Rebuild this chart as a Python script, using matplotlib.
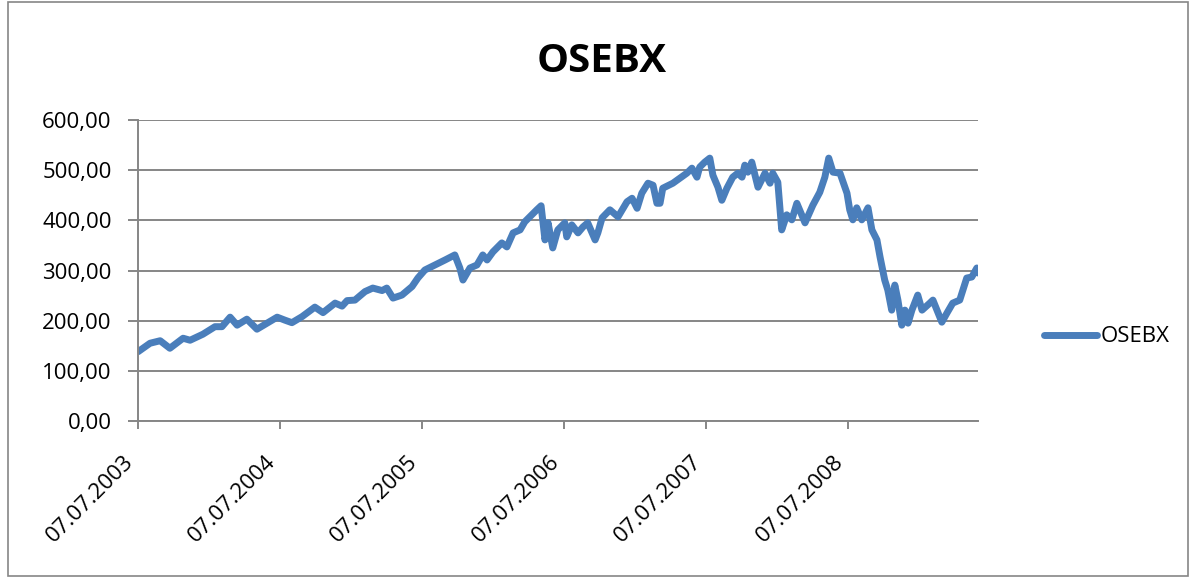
import pandas as pd
import matplotlib
matplotlib.use("Agg")
import matplotlib.pyplot as plt
import matplotlib.ticker as mticker
import matplotlib.dates as mdates
from matplotlib.patches import Rectangle

# ── Data ─────────────────────────────────────────────────
DATES = [
    "2003-07-07", "2003-08-07", "2003-09-02", "2003-09-27", "2003-10-31",
    "2003-11-18", "2003-12-21", "2004-01-21", "2004-02-08", "2004-02-29",
    "2004-03-18", "2004-04-12", "2004-05-08", "2004-06-03", "2004-06-29",
    "2004-07-19", "2004-08-06", "2004-09-01", "2004-10-04", "2004-10-25",
    "2004-11-25", "2004-12-13", "2004-12-26", "2005-01-15", "2005-02-10",
    "2005-03-02", "2005-03-26", "2005-04-07", "2005-04-23", "2005-05-16",
    "2005-06-11", "2005-06-26", "2005-07-14", "2005-08-09", "2005-09-04",
    "2005-09-29", "2005-10-12", "2005-10-20", "2005-11-07", "2005-11-25",
    "2005-12-10", "2005-12-21", "2006-01-05", "2006-01-28", "2006-02-10",
    "2006-02-26", "2006-03-16", "2006-03-28", "2006-04-15", "2006-04-28",
    "2006-05-09", "2006-05-19", "2006-05-27", "2006-06-08", "2006-06-21",
    "2006-07-09", "2006-07-14", "2006-07-27", "2006-08-12", "2006-08-25",
    "2006-09-06", "2006-09-25", "2006-10-02", "2006-10-13", "2006-11-02",
    "2006-11-23", "2006-12-16", "2006-12-29", "2007-01-11", "2007-01-23",
    "2007-02-08", "2007-02-21", "2007-03-03", "2007-03-11", "2007-03-18",
    "2007-04-13", "2007-05-01", "2007-05-19", "2007-06-01", "2007-06-14",
    "2007-06-21", "2007-07-04", "2007-07-17", "2007-07-25", "2007-08-07",
    "2007-08-17", "2007-08-30", "2007-09-14", "2007-09-27", "2007-10-08",
    "2007-10-15", "2007-10-23", "2007-11-02", "2007-11-18", "2007-12-06",
    "2007-12-19", "2007-12-26", "2008-01-08", "2008-01-18", "2008-01-31",
    "2008-02-13", "2008-02-26", "2008-03-18", "2008-04-07", "2008-04-25",
    "2008-05-08", "2008-05-18", "2008-05-29", "2008-06-16", "2008-07-04",
    "2008-07-11", "2008-07-19", "2008-07-29", "2008-08-11", "2008-08-27",
    "2008-09-06", "2008-09-19", "2008-09-27", "2008-10-09", "2008-10-17",
    "2008-10-27", "2008-11-04", "2008-11-12", "2008-11-22", "2008-11-30",
    "2008-12-08", "2008-12-18", "2009-01-02", "2009-01-13", "2009-02-02",
    "2009-02-10", "2009-03-05", "2009-03-18", "2009-04-02", "2009-04-20",
    "2009-05-08", "2009-05-21", "2009-06-03", "2009-06-06",
]
OSEBX = [
    138, 155, 160, 145, 165,
    161, 173, 188, 188, 207,
    191, 203, 183, 195, 207,
    201, 196, 208, 227, 216,
    235, 229, 240, 241, 258,
    265, 260, 265, 245, 251,
    268, 285, 301, 311, 321,
    331, 305, 281, 305, 311,
    331, 321, 337, 355, 347,
    375, 381, 397, 411, 421,
    429, 361, 395, 345, 381,
    395, 367, 391, 375, 387,
    395, 361, 375, 405, 421,
    407, 437, 444, 424, 454,
    474, 470, 434, 434, 464,
    474, 484, 494, 504, 486,
    506, 516, 524, 490, 466,
    440, 464, 486, 494, 486,
    510, 496, 516, 466, 494,
    474, 494, 476, 381, 411,
    401, 434, 395, 430, 456,
    486, 524, 496, 494, 454,
    421, 401, 425, 401, 425,
    381, 361, 327, 281, 261,
    221, 271, 241, 191, 221,
    195, 221, 251, 221, 235,
    241, 197, 215, 235, 241,
    285, 287, 305, 295,
]
TICK_DATES = ["2003-07-07", "2004-07-07", "2005-07-07",
              "2006-07-07", "2007-07-07", "2008-07-07"]
Y_TICKS = [0, 100, 200, 300, 400, 500, 600]

LINE_COLOR = "#4A7EBB"
GRID_COLOR = "#868686"

plt.rcParams["font.family"] = ["Open Sans", "DejaVu Sans"]

dates = pd.to_datetime(DATES)

fig = plt.figure(figsize=(11.94, 5.78), dpi=100)
ax = fig.add_axes([138 / 1194, 1 - 421 / 578, 840 / 1194, 301 / 578])

ax.plot(dates, OSEBX, color=LINE_COLOR, linewidth=5.0,
        solid_joinstyle="round", solid_capstyle="round", label="OSEBX")

ax.set_xlim(dates[0], dates[-1])
ax.set_ylim(0, 600)
ax.set_yticks(Y_TICKS)
ax.yaxis.set_major_formatter(
    mticker.FuncFormatter(lambda v, _: f"{v:.2f}".replace(".", ",")))
ax.set_xticks(pd.to_datetime(TICK_DATES))
ax.xaxis.set_major_formatter(mdates.DateFormatter("%d.%m.%Y"))

ax.grid(axis="y", color=GRID_COLOR, linewidth=1.4)
ax.set_axisbelow(True)
for side in ["top", "right"]:
    ax.spines[side].set_visible(False)
for side in ["left", "bottom"]:
    ax.spines[side].set_color(GRID_COLOR)
    ax.spines[side].set_linewidth(1.4)

ax.tick_params(axis="y", length=7, width=1.4, color=GRID_COLOR,
               labelsize=16, pad=12)
ax.tick_params(axis="x", length=6, width=1.4, color=GRID_COLOR,
               labelsize=16, pad=16)
for lbl in ax.get_xticklabels():
    lbl.set_rotation(45)
    lbl.set_ha("right")
    lbl.set_va("top")

fig.text(602 / 1194, 1 - 62 / 578, "OSEBX", fontsize=29,
         fontweight="bold", ha="center", va="center")

fig.legend(loc="center left", bbox_to_anchor=(1024 / 1194, 1 - 337 / 578),
           frameon=False, fontsize=16, handlelength=2.4, handletextpad=0.15)

# chart area border
fig.patches.append(Rectangle((8 / 1194, 2 / 578), 1180 / 1194, 574 / 578,
                             transform=fig.transFigure, fill=False,
                             edgecolor=GRID_COLOR, linewidth=1.2))

plt.savefig("out.png", dpi=100)
